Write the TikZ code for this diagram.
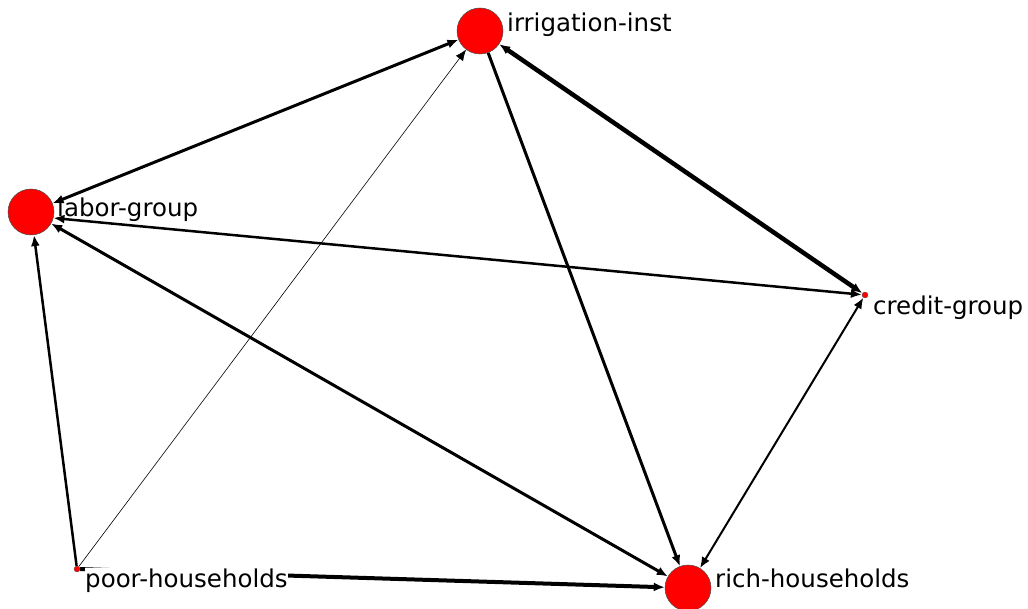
\documentclass[tikz,border=0pt]{standalone}
\usepackage{fontspec}
\setmainfont{DejaVu Sans}
\usetikzlibrary{arrows.meta,backgrounds}
\tikzset{
  bignode/.style={circle,fill=red,draw=black!70,line width=0.5pt,minimum size=46pt,inner sep=0pt},
  smallnode/.style={circle,fill=red,draw=black!70,line width=0.3pt,minimum size=6pt,inner sep=0pt},
  lbl/.style={anchor=base west,inner sep=0pt,font=\fontsize{24.5}{29}\selectfont},
  edge/.style={draw=black,line cap=butt},
  one/.style={edge,-{Latex[length=11pt,width=9pt]}},
  two/.style={edge,{Latex[length=11pt,width=9pt]}-{Latex[length=11pt,width=9pt]}},
}
\begin{document}
\begin{tikzpicture}[x=1pt,y=-1pt]
\useasboundingbox (0,0) rectangle (1028,609);
\node[bignode] (irr) at (480,31) {};
\node[bignode] (lab) at (31,212) {};
\node[smallnode] (cre) at (865,295) {};
\node[smallnode] (poor) at (77,569) {};
\node[bignode] (rich) at (688,588) {};
\begin{scope}[on background layer]
\fill[white] (0,0) rectangle (1028,609);
\draw[two,line width=3pt] (lab) -- (irr);
\draw[one,line width=0.6pt] (poor) -- (irr);
\draw[two,line width=4.5pt] (irr) -- (cre);
\draw[one,line width=3pt] (irr) -- (rich);
\draw[two,line width=2.5pt] (lab.-15) -- (cre);
\draw[two,line width=3pt] (lab) -- (rich);
\draw[one,line width=2.5pt] (poor) -- (lab);
\draw[one,line width=4pt] (poor) -- (rich);
\draw[two,line width=2pt] (cre) -- (rich);
\end{scope}
\node[lbl] (irr-l) at (507,32) {irrigation-inst};
\node[lbl] (lab-l) at (57,217) {labor-group};
\node[lbl] (cre-l) at (873,315) {credit-group};
\node[lbl,fill=white] (poor-l) at (85,587) {poor-households};
\node[lbl] (rich-l) at (715,587) {rich-households};
\end{tikzpicture}
\end{document}
